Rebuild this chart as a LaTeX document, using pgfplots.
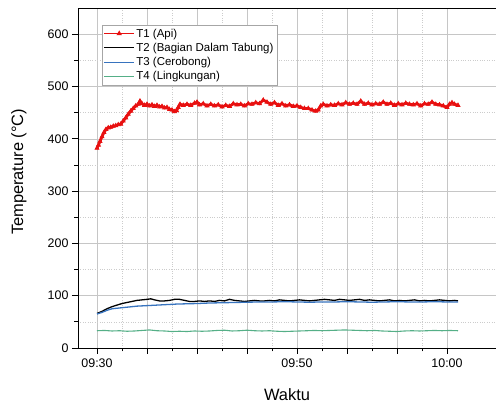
\documentclass[border=0pt]{standalone}
\usepackage{pgfplots}
\pgfplotsset{compat=1.18}
\usepackage{fontspec}
\setmainfont{Liberation Sans}
\usetikzlibrary{calc}
\definecolor{tred}{RGB}{232,16,16}
\definecolor{tblue}{RGB}{55,115,190}
\definecolor{tgreen}{RGB}{85,175,135}
\begin{document}
\begin{tikzpicture}
\begin{axis}[
  scale only axis, width=418bp, height=340bp,
  xmin=-0.76, xmax=15.96, ymin=0, ymax=650,
  axis y line*=left,
  xtick pos=bottom, ytick pos=left,
  tick align=outside,
  major tick length=6bp, minor tick length=3.5bp,
  xtick={0,2,4,6,8,10,12,14},
  xticklabels={09:30,,,,09:50,,,10:00},
  minor x tick num=1,
  ytick={0,100,200,300,400,500,600},
  minor y tick num=1,
  grid=both,
  major grid style={gray!45, line width=0.5pt},
  minor grid style={gray!40, dotted, line width=0.5pt},
  axis line style={black, line width=0.9pt},
  every tick/.style={black, line width=0.8pt},
  /pgf/number format/assume math mode=true,
  ticklabel style={font=\fontsize{12.5}{14}\selectfont},
  xticklabel style={yshift=-1bp},
  legend style={at={(0.058,0.95)}, anchor=north west, draw=gray!70, line width=0.5pt,
    fill=white, font=\fontsize{11.5}{13}\selectfont, inner sep=1.5pt, row sep=0.5pt},
  legend cell align=left,
  legend image code/.code={\draw[mark repeat=2,mark phase=2,#1,line width=1pt] plot coordinates {(0cm,0cm) (0.52cm,0cm) (1.04cm,0cm)};},
]
\addplot[tred, line width=2.8pt, forget plot] coordinates {
(0,382) (0.06,388) (0.12,395) (0.2,404) (0.28,412) (0.36,418) (0.45,421) (0.55,422) (0.65,424) (0.75,425)
(0.85,427) (0.95,428) (1.05,434) (1.15,440) (1.25,447) (1.35,453) (1.45,458) (1.55,463) (1.65,466) (1.72,472)
(1.8,467) (1.9,464) (2.0,466) (2.1,463) (2.2,465) (2.3,462) (2.4,464) (2.5,461) (2.6,462) (2.7,459)
(2.8,460) (2.9,456) (3.0,455) (3.1,452) (3.18,454) (3.25,460) (3.32,466) (3.45,464) (3.6,466) (3.75,464)
(3.9,468) (4.0,470) (4.1,465) (4.25,467) (4.4,463) (4.55,466) (4.7,463) (4.85,465) (5.0,461) (5.15,464)
(5.3,462) (5.45,467) (5.6,465) (5.75,466) (5.9,463) (6.05,467) (6.2,466) (6.35,469) (6.5,467) (6.65,474)
(6.8,470) (6.95,466) (7.1,469) (7.25,464) (7.4,467) (7.55,463) (7.7,465) (7.85,462) (8.0,463) (8.15,460)
(8.3,458) (8.45,458) (8.6,455) (8.75,453) (8.85,455) (8.95,463) (9.05,466) (9.2,463) (9.35,465) (9.5,464)
(9.65,467) (9.8,465) (9.95,469) (10.1,466) (10.25,468) (10.4,466) (10.55,472) (10.7,466) (10.85,468) (11.0,465)
(11.15,467) (11.3,466) (11.45,470) (11.6,466) (11.75,468) (11.9,464) (12.05,467) (12.2,465) (12.35,468) (12.5,466)
(12.65,465) (12.8,467) (12.95,463) (13.1,467) (13.25,466) (13.4,470) (13.55,466) (13.7,465) (13.85,463) (14.0,460)
(14.1,466) (14.2,469) (14.3,466) (14.44,464)};
\addplot[tred, line width=0.8pt, mark=triangle*, mark size=2.2pt] coordinates {
(0,382) (0.06,388) (0.12,395) (0.2,404) (0.28,412) (0.36,418) (0.45,421) (0.55,422) (0.65,424) (0.75,425)
(0.85,427) (0.95,428) (1.05,434) (1.15,440) (1.25,447) (1.35,453) (1.45,458) (1.55,463) (1.65,466) (1.72,472)
(1.8,467) (1.9,464) (2.0,466) (2.1,463) (2.2,465) (2.3,462) (2.4,464) (2.5,461) (2.6,462) (2.7,459)
(2.8,460) (2.9,456) (3.0,455) (3.1,452) (3.18,454) (3.25,460) (3.32,466) (3.45,464) (3.6,466) (3.75,464)
(3.9,468) (4.0,470) (4.1,465) (4.25,467) (4.4,463) (4.55,466) (4.7,463) (4.85,465) (5.0,461) (5.15,464)
(5.3,462) (5.45,467) (5.6,465) (5.75,466) (5.9,463) (6.05,467) (6.2,466) (6.35,469) (6.5,467) (6.65,474)
(6.8,470) (6.95,466) (7.1,469) (7.25,464) (7.4,467) (7.55,463) (7.7,465) (7.85,462) (8.0,463) (8.15,460)
(8.3,458) (8.45,458) (8.6,455) (8.75,453) (8.85,455) (8.95,463) (9.05,466) (9.2,463) (9.35,465) (9.5,464)
(9.65,467) (9.8,465) (9.95,469) (10.1,466) (10.25,468) (10.4,466) (10.55,472) (10.7,466) (10.85,468) (11.0,465)
(11.15,467) (11.3,466) (11.45,470) (11.6,466) (11.75,468) (11.9,464) (12.05,467) (12.2,465) (12.35,468) (12.5,466)
(12.65,465) (12.8,467) (12.95,463) (13.1,467) (13.25,466) (13.4,470) (13.55,466) (13.7,465) (13.85,463) (14.0,460)
(14.1,466) (14.2,469) (14.3,466) (14.44,464)};
\addlegendentry{T1 (Api)}
\addplot[black, line width=1.3pt] coordinates {
(0,66) (0.2,70) (0.4,75) (0.6,79) (0.8,82) (1.0,85) (1.2,87) (1.4,89) (1.6,91) (1.8,92)
(2.0,93) (2.15,94) (2.3,92) (2.5,90) (2.7,90) (2.9,91) (3.1,93) (3.3,93) (3.5,91) (3.7,89)
(3.9,89) (4.1,90) (4.3,89) (4.5,90) (4.7,89) (4.9,91) (5.1,90) (5.3,93) (5.5,91) (5.7,90)
(5.9,89) (6.1,90) (6.3,91) (6.5,90) (6.7,90) (6.9,91) (7.1,90) (7.3,92) (7.5,91) (7.7,90)
(7.9,91) (8.1,92) (8.3,91) (8.5,90) (8.7,91) (8.9,92) (9.1,93) (9.3,92) (9.5,91) (9.7,93)
(9.9,92) (10.1,91) (10.3,92) (10.5,93) (10.7,91) (10.9,92) (11.1,91) (11.3,90) (11.5,91) (11.7,92)
(11.9,90) (12.1,91) (12.3,90) (12.5,91) (12.7,92) (12.9,90) (13.1,91) (13.3,90) (13.5,91) (13.7,92)
(13.9,91) (14.1,90) (14.3,91) (14.44,90)};
\addlegendentry{T2 (Bagian Dalam Tabung)}
\addplot[tblue, line width=1.3pt] coordinates {
(0,65) (0.2,68) (0.4,72) (0.6,75) (0.8,76) (1.0,77) (1.2,78) (1.4,79) (1.6,80) (1.8,80.5)
(2.0,81) (2.4,82) (2.8,83) (3.2,84) (3.6,84.5) (4.0,85) (4.5,86) (5.0,86.5) (5.5,87) (6.0,87.5)
(6.5,88) (7.0,88) (7.5,88.5) (8.0,88) (8.5,87.5) (9.0,88) (9.5,88) (10.0,88.5) (10.5,88) (11.0,87.5)
(11.5,88) (12.0,88.5) (12.5,88) (13.0,88) (13.5,88.5) (14.0,88) (14.44,88)};
\addlegendentry{T3 (Cerobong)}
\addplot[tgreen, line width=1.1pt] coordinates {
(0,33) (0.3,33.5) (0.6,32.5) (0.9,33) (1.2,32) (1.5,32.5) (1.8,33.5) (2.1,34.5) (2.4,33) (2.7,32.5)
(3.0,31.5) (3.3,32) (3.6,31.5) (3.9,32.5) (4.2,32) (4.5,32.5) (4.8,33.5) (5.1,34) (5.4,32.5) (5.7,33)
(6.0,34) (6.3,33) (6.6,32.5) (6.9,33) (7.2,32) (7.5,31.5) (7.8,32) (8.1,32.5) (8.4,33) (8.7,33.5)
(9.0,33) (9.3,33.5) (9.6,34) (9.9,34.5) (10.2,34) (10.5,33.5) (10.8,33) (11.1,33.5) (11.4,32.5) (11.7,32)
(12.0,31.5) (12.3,32.5) (12.6,33) (12.9,32.5) (13.2,33) (13.5,33.5) (13.8,33) (14.1,33.5) (14.44,33)};
\addlegendentry{T4 (Lingkungan)}
\coordinate (sw) at (rel axis cs:0,0);
\coordinate (ne) at (rel axis cs:1,1);
\coordinate (ylab) at (rel axis cs:0,0.518);
\coordinate (xlab) at (rel axis cs:0.5,0);
\end{axis}
\node[rotate=90, font=\fontsize{16.5}{19}\selectfont] at ($(ylab)+(-59bp,0)$) {Temperature (°C)};
\node[font=\fontsize{16.5}{19}\selectfont] at ($(xlab)+(0,-47bp)$) {Waktu};
\pgfresetboundingbox
\path[use as bounding box] ($(sw)+(-78bp,-58bp)$) rectangle ($(ne)+(0bp,8bp)$);
\end{tikzpicture}
\end{document}
